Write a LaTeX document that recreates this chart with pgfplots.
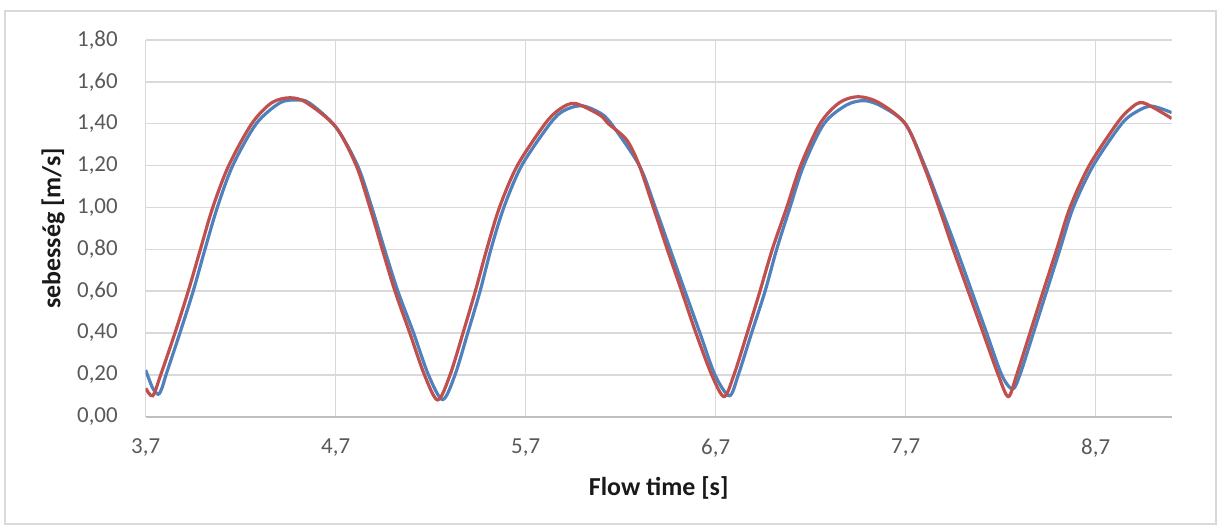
\documentclass[border=0pt]{standalone}
\usepackage{fontspec}
\setmainfont{Carlito}
\usepackage{pgfplots}
\pgfplotsset{compat=1.18}
\definecolor{serA}{HTML}{4F81BD}
\definecolor{serB}{HTML}{C0504D}
\definecolor{gridc}{HTML}{D9D9D9}
\definecolor{axc}{HTML}{BFBFBF}
\definecolor{tickc}{HTML}{595959}

\begin{document}
\begin{tikzpicture}
\useasboundingbox (-72.85bp,-56.65bp) rectangle (538.15bp,208.35bp);
\draw[gridc, line width=0.75bp] (-70.35bp,-53.65bp) rectangle (535.15bp,202.85bp);
\begin{axis}[
  at={(0,0)}, anchor=south west,
  scale only axis, width=513bp, height=188.35bp,
  xmin=3.7, xmax=9.1, ymin=0, ymax=1.8,
  xtick={3.7,4.7,5.7,6.7,7.7,8.7},
  ytick={0,0.2,0.4,0.6,0.8,1.0,1.2,1.4,1.6,1.8},
  axis x line*=bottom, axis y line*=left,
  x axis line style={axc, line width=0.9bp},
  y axis line style={gridc, line width=0.75bp},
  major tick length=0pt,
  xmajorgrids, ymajorgrids,
  grid style={gridc, line width=0.75bp},
  font=\fontsize{11.5}{13}\selectfont,
  tick label style={tickc},
  /pgf/number format/assume math mode=true,
  /pgf/number format/use comma,
  xticklabel style={/pgf/number format/.cd, fixed, fixed zerofill, precision=1, /tikz/.cd, anchor=center, yshift=-15.6bp},
  yticklabel style={/pgf/number format/.cd, fixed, fixed zerofill, precision=2, /tikz/.cd, anchor=east, inner sep=0pt, xshift=-13.8bp},
  xlabel={\bfseries Flow time [s]},
  ylabel={\bfseries sebesség [m/s]},
  label style={font=\fontsize{13}{15}\selectfont, black!90},
  xlabel style={at={(rel axis cs:0.5,0)}, anchor=center, yshift=-35.6bp},
  ylabel style={at={(rel axis cs:0,0.5)}, anchor=center, yshift=46.3bp},
  clip=true,
]
% series 1 (blue)
\addplot[serA, line width=1.6bp, smooth] coordinates {
(3.70,0.223) (3.735,0.14) (3.766,0.107) (3.787,0.14) (3.807,0.20)
(3.88,0.40) (3.95,0.60) (4.012,0.80) (4.077,1.00) (4.158,1.20)
(4.282,1.40) (4.407,1.50) (4.495,1.513) (4.56,1.50) (4.70,1.385)
(4.815,1.20) (4.89,1.00) (4.957,0.80) (5.027,0.60) (5.11,0.40)
(5.188,0.20) (5.263,0.082) (5.328,0.20) (5.395,0.40) (5.46,0.60)
(5.517,0.80) (5.585,1.00) (5.679,1.20) (5.828,1.40) (5.90,1.462)
(5.993,1.486) (6.09,1.452) (6.15,1.40) (6.298,1.20) (6.382,1.00)
(6.46,0.80) (6.538,0.60) (6.617,0.40) (6.696,0.20) (6.772,0.10)
(6.819,0.20) (6.889,0.40) (6.96,0.60) (7.021,0.80) (7.091,1.00)
(7.163,1.20) (7.27,1.40) (7.39,1.49) (7.486,1.51) (7.58,1.48)
(7.70,1.397) (7.80,1.20) (7.885,1.00) (7.968,0.80) (8.047,0.60)
(8.126,0.40) (8.205,0.20) (8.262,0.132) (8.301,0.20) (8.372,0.40)
(8.442,0.60) (8.512,0.80) (8.582,1.00) (8.687,1.20) (8.837,1.40)
(8.92,1.46) (8.995,1.484) (9.10,1.453)
};
% series 2 (red)
\addplot[serB, line width=1.6bp, smooth] coordinates {
(3.70,0.136) (3.737,0.100) (3.779,0.20) (3.854,0.40) (3.924,0.60)
(3.988,0.80) (4.053,1.00) (4.137,1.20) (4.258,1.40) (4.363,1.50)
(4.46,1.524) (4.547,1.50) (4.70,1.385) (4.808,1.20) (4.88,1.00)
(4.945,0.80) (5.012,0.60) (5.09,0.40) (5.167,0.20) (5.237,0.080)
(5.302,0.20) (5.37,0.40) (5.435,0.60) (5.495,0.80) (5.562,1.00)
(5.656,1.20) (5.802,1.40) (5.88,1.47) (5.96,1.497) (6.091,1.441)
(6.135,1.40) (6.232,1.322) (6.298,1.20) (6.372,1.00) (6.445,0.80)
(6.521,0.60) (6.596,0.40) (6.679,0.20) (6.744,0.096) (6.796,0.20)
(6.866,0.40) (6.933,0.60) (6.998,0.80) (7.074,1.00) (7.147,1.20)
(7.249,1.40) (7.35,1.50) (7.45,1.529) (7.56,1.50) (7.70,1.397)
(7.795,1.20) (7.875,1.00) (7.95,0.80) (8.029,0.60) (8.108,0.40)
(8.187,0.20) (8.24,0.096) (8.284,0.20) (8.354,0.40) (8.424,0.60)
(8.495,0.80) (8.565,1.00) (8.666,1.20) (8.811,1.40) (8.88,1.47)
(8.95,1.50) (9.10,1.425)
};
\end{axis}
\end{tikzpicture}
\end{document}
